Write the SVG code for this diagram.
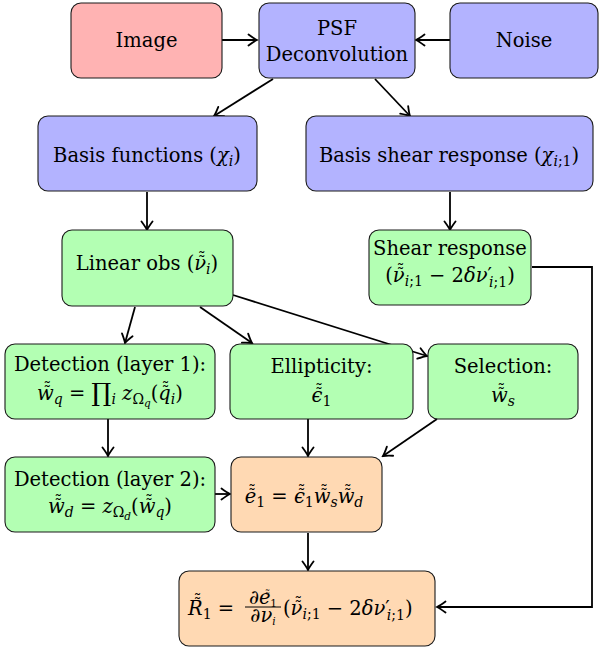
<svg xmlns="http://www.w3.org/2000/svg" width="600" height="652" viewBox="0 0 600 652">
<style>
.box{stroke:#1a1a1a;stroke-width:1.1;}
.red{fill:#ffb3b3}.blue{fill:#b3b3ff}.green{fill:#b3ffb3}.orange{fill:#ffd9b3}
.t{font-family:"DejaVu Serif",serif;font-size:19.5px;fill:#000;text-anchor:middle}
.s{text-anchor:start}
.m{font-style:italic}
.c{fill:none;stroke:#000;stroke-width:1.8}
</style>
<defs>
<marker id="ah" viewBox="-10 -7 12 14" refX="0" refY="0" markerWidth="12" markerHeight="14" orient="auto" markerUnits="userSpaceOnUse">
<path d="M-8.5,-5.5 Q-2.8,-1.3 0,0 Q-2.8,1.3 -8.5,5.5" fill="none" stroke="#000" stroke-width="1.8" stroke-linecap="round"/>
</marker>
</defs>
<g id="connectors">
<path class="c" marker-end="url(#ah)" d="M222,40 L257,40"/>
<path class="c" marker-end="url(#ah)" d="M450,40 L416,40"/>
<path class="c" marker-end="url(#ah)" d="M273,79 L214,116"/>
<path class="c" marker-end="url(#ah)" d="M375,79 L410,116"/>
<path class="c" marker-end="url(#ah)" d="M147,192 L147,230"/>
<path class="c" marker-end="url(#ah)" d="M450,192 L450,230"/>
<path class="c" marker-end="url(#ah)" d="M135,307 L125,343"/>
<path class="c" marker-end="url(#ah)" d="M200,307 L252,343"/>
<path class="c" marker-end="url(#ah)" d="M233,295 L427,356"/>
<path class="c" marker-end="url(#ah)" d="M108,419 L108,456"/>
<path class="c" marker-end="url(#ah)" d="M308,419 L308,456"/>
<path class="c" marker-end="url(#ah)" d="M437,419 L383,456"/>
<path class="c" marker-end="url(#ah)" d="M215,494 L230,494"/>
<path class="c" marker-end="url(#ah)" d="M308,533 L308,570"/>
<path class="c" marker-end="url(#ah)" d="M532,267 L592,267 L592,607 L437,607"/>
</g>
<g id="image"><rect class="box red" x="71" y="3" width="151" height="75" rx="10"/>
<text class="t" x="146.5" y="47">Image</text></g>
<g id="psf"><rect class="box blue" x="259" y="3" width="156" height="75" rx="10"/>
<text class="t" x="337" y="35">PSF</text><text class="t" x="337" y="61">Deconvolution</text></g>
<g id="noise"><rect class="box blue" x="450" y="3" width="148" height="75" rx="10"/>
<text class="t" x="524" y="47">Noise</text></g>
<g id="basis"><rect class="box blue" x="38" y="116" width="219" height="75" rx="10"/>
<text class="t" x="147" y="162">Basis functions (<tspan class="m">χ</tspan><tspan class="m" font-size="14" dy="4">i</tspan><tspan dy="-4">)</tspan></text></g>
<g id="basisshear"><rect class="box blue" x="306" y="116" width="287" height="75" rx="10"/>
<text class="t" x="449" y="162">Basis shear response (<tspan class="m">χ</tspan><tspan font-size="14" dy="4"><tspan class="m">i</tspan>;1</tspan><tspan dy="-4">)</tspan></text></g>
<g id="linear"><rect class="box green" x="62" y="230" width="171" height="76" rx="10"/>
<text class="t" x="147" y="270">Linear obs (<tspan class="m">ν</tspan><tspan font-size="16" dx="-8.3" dy="-2">˜</tspan><tspan font-size="16" dx="-8" dy="-4">˜</tspan><tspan class="m" font-size="14" dx="0.3" dy="10">i</tspan><tspan dy="-4">)</tspan></text></g>
<g id="shear"><rect class="box green" x="369" y="230" width="162" height="75" rx="10"/>
<text class="t" x="450" y="255">Shear response</text>
<text class="t" x="450" y="282">(<tspan class="m">ν</tspan><tspan font-size="16" dx="-8.3" dy="-2">˜</tspan><tspan font-size="16" dx="-8" dy="-4">˜</tspan><tspan font-size="14" dx="0.3" dy="10"><tspan class="m">i</tspan>;1</tspan><tspan dy="-4"> − 2</tspan><tspan class="m">δν</tspan>′<tspan font-size="14" dy="5" dx="-3"><tspan class="m">i</tspan>;1</tspan><tspan dy="-5">)</tspan></text></g>
<g id="det1"><rect class="box green" x="5" y="344" width="210" height="75" rx="10"/>
<text class="t" x="110" y="371">Detection (layer 1):</text>
<text class="t" x="110" y="400"><tspan class="m">w</tspan><tspan font-size="16" dx="-10.5" dy="-2">˜</tspan><tspan font-size="16" dx="-8" dy="-4">˜</tspan><tspan class="m" font-size="14" dx="2.5" dy="10">q</tspan><tspan dy="-4"> = </tspan><tspan font-size="25" dy="1">∏</tspan><tspan class="m" font-size="14" dy="3">i</tspan><tspan dy="-4">  </tspan><tspan class="m">z</tspan><tspan font-size="14" dy="4">Ω</tspan><tspan class="m" font-size="10.5" dy="2.5">q</tspan><tspan dy="-6.5">(</tspan><tspan class="m">q</tspan><tspan font-size="16" dx="-9.2" dy="-2">˜</tspan><tspan font-size="16" dx="-8" dy="-4">˜</tspan><tspan class="m" font-size="14" dx="1.2" dy="10">i</tspan><tspan dy="-4">)</tspan></text></g>
<g id="ellip"><rect class="box green" x="230" y="344" width="183" height="75" rx="10"/>
<text class="t" x="321.5" y="373">Ellipticity:</text>
<text class="t" x="321.5" y="402"><tspan class="m">ϵ</tspan><tspan font-size="16" dx="-7.4" dy="-2">˜</tspan><tspan font-size="16" dx="-8" dy="-4">˜</tspan><tspan font-size="14" dx="-0.6" dy="10">1</tspan></text></g>
<g id="select"><rect class="box green" x="428" y="344" width="150" height="75" rx="10"/>
<text class="t" x="503" y="373">Selection:</text>
<text class="t" x="503" y="402"><tspan class="m">w</tspan><tspan font-size="16" dx="-10.5" dy="-2">˜</tspan><tspan font-size="16" dx="-8" dy="-4">˜</tspan><tspan class="m" font-size="14" dx="2.5" dy="10">s</tspan></text></g>
<g id="det2"><rect class="box green" x="5" y="457" width="210" height="75" rx="10"/>
<text class="t" x="110" y="486">Detection (layer 2):</text>
<text class="t" x="110" y="513"><tspan class="m">w</tspan><tspan font-size="16" dx="-10.5" dy="-2">˜</tspan><tspan font-size="16" dx="-8" dy="-4">˜</tspan><tspan class="m" font-size="14" dx="2.5" dy="10">d</tspan><tspan dy="-4"> = </tspan><tspan class="m">z</tspan><tspan font-size="14" dy="4">Ω</tspan><tspan class="m" font-size="10.5" dy="2.5">d</tspan><tspan dy="-6.5">(</tspan><tspan class="m">w</tspan><tspan font-size="16" dx="-10.5" dy="-2">˜</tspan><tspan font-size="16" dx="-8" dy="-4">˜</tspan><tspan class="m" font-size="14" dx="2.5" dy="10">q</tspan><tspan dy="-4">)</tspan></text></g>
<g id="e1"><rect class="box orange" x="231" y="457" width="151" height="75" rx="10"/>
<text class="t" x="304" y="503"><tspan class="m">e</tspan><tspan font-size="16" dx="-8.3" dy="-2">˜</tspan><tspan font-size="16" dx="-8" dy="-4">˜</tspan><tspan font-size="14" dx="0.3" dy="10">1</tspan><tspan dy="-4"> = </tspan><tspan class="m">ϵ</tspan><tspan font-size="16" dx="-7.4" dy="-2">˜</tspan><tspan font-size="16" dx="-8" dy="-4">˜</tspan><tspan font-size="14" dx="-0.6" dy="10">1</tspan><tspan class="m" dy="-4">w</tspan><tspan font-size="16" dx="-10.5" dy="-2">˜</tspan><tspan font-size="16" dx="-8" dy="-4">˜</tspan><tspan class="m" font-size="14" dx="2.5" dy="10">s</tspan><tspan class="m" dy="-4">w</tspan><tspan font-size="16" dx="-10.5" dy="-2">˜</tspan><tspan font-size="16" dx="-8" dy="-4">˜</tspan><tspan class="m" font-size="14" dx="2.5" dy="10">d</tspan></text></g>
<g id="r1"><rect class="box orange" x="179" y="571" width="256" height="75" rx="10"/>
<text class="t s" x="188" y="615"><tspan class="m">R</tspan><tspan font-size="16" dx="-9.2" dy="-5">˜</tspan><tspan font-size="16" dx="-8" dy="-4">˜</tspan><tspan font-size="14" dx="1.2" dy="13">1</tspan><tspan dy="-4"> =</tspan></text>
<text class="t" x="263" y="604" font-size="14">∂<tspan class="m">e</tspan><tspan font-size="11" dx="-6" dy="-3">˜</tspan><tspan font-size="11" dx="-5.5" dy="-3">˜</tspan><tspan font-size="10.5" dx="0.2" dy="9">1</tspan></text>
<line x1="245" y1="607" x2="281" y2="607" stroke="#000" stroke-width="1"/>
<text class="t" x="263" y="622" font-size="14">∂<tspan class="m">ν</tspan><tspan class="m" font-size="10.5" dy="3">i</tspan></text>
<text class="t s" x="283" y="615">(<tspan class="m">ν</tspan><tspan font-size="16" dx="-8.3" dy="-2">˜</tspan><tspan font-size="16" dx="-8" dy="-4">˜</tspan><tspan font-size="14" dx="0.3" dy="10"><tspan class="m">i</tspan>;1</tspan><tspan dy="-4"> − 2</tspan><tspan class="m">δν</tspan>′<tspan font-size="14" dy="5" dx="-3"><tspan class="m">i</tspan>;1</tspan><tspan dy="-5">)</tspan></text></g>
</svg>
